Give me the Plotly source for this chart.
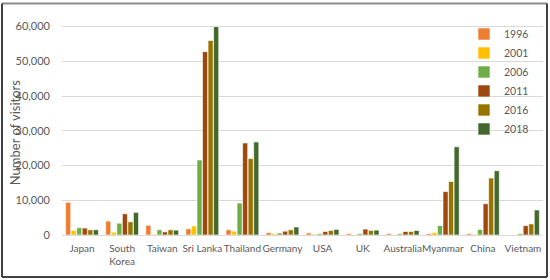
import plotly.graph_objects as go

countries = ["Japan", "South<br>Korea", "Taiwan", "Sri Lanka", "Thailand", "Germany",
             "USA", "UK", "Australia", "Myanmar", "China", "Vietnam"]
years = ["1996", "2001", "2006", "2011", "2016", "2018"]
v1996 = [9400, 4000, 2800, 1800, 1500, 700, 600, 400, 400, 400, 400, 0]
v2001 = [1300, 800, 200, 2600, 1100, 400, 200, 100, 100, 700, 200, 0]
v2006 = [2100, 3400, 1500, 21600, 9200, 600, 400, 400, 400, 2700, 1600, 400]
v2011 = [2000, 6100, 900, 52800, 26500, 1100, 1000, 1700, 1000, 12500, 9000, 2700]
v2016 = [1500, 3800, 1500, 56000, 22000, 1500, 1300, 1300, 1000, 15400, 16400, 3200]
v2018 = [1500, 6500, 1400, 60000, 26800, 2300, 1600, 1400, 1300, 25400, 18500, 7200]
series = [v1996, v2001, v2006, v2011, v2016, v2018]
colors = ["#ED7D31", "#FFC000", "#70AD47", "#9E480E", "#997300", "#43682B"]

FONT = "Lato"
GRAY = "#595959"

fig = go.Figure()
for name, vals, c in zip(years, series, colors):
    fig.add_trace(go.Bar(x=countries, y=vals, name=name,
                         marker=dict(color=c, line=dict(color="white", width=0.6))))

# plot area: x 62..543, y 10.5..235 in pixels
L, R, T, B = 62, 7, 10.5, 45
W = 550 - L - R
H = 280 - T - B
def px(x):
    return (x - L) / W
def py(y):
    return (280 - B - y) / H

fig.update_layout(
    width=550, height=280,
    margin=dict(l=L, r=R, t=T, b=B, autoexpand=False),
    paper_bgcolor="white", plot_bgcolor="white",
    barmode="group", bargap=0.17, bargroupgap=0.08,
    font=dict(family=FONT, size=11, color=GRAY),
    showlegend=True,
    legend=dict(x=px(464), y=py(19), xanchor="left", yanchor="top",
                bgcolor="rgba(0,0,0,0)", font=dict(family=FONT, size=10.5, color=GRAY),
                tracegroupgap=0, itemwidth=30),
    xaxis=dict(showgrid=False, showline=True, linecolor="#D9D9D9", linewidth=1,
               tickangle=0, automargin=False, ticklabelstandoff=4,
               tickfont=dict(family=FONT, size=10, color=GRAY), ticks=""),
    yaxis=dict(range=[0, 64500], tickvals=[0, 10000, 20000, 30000, 40000, 50000, 60000],
               tickformat=",", showgrid=True, gridcolor="#D9D9D9", gridwidth=1,
               zeroline=False, showline=False, ticks="", ticklabelstandoff=11,
               automargin=False,
               tickfont=dict(family=FONT, size=11, color=GRAY)),
    annotations=[dict(text="Number of visitors", xref="paper", yref="paper",
                      x=px(15), y=py(132), xanchor="center", yanchor="middle",
                      textangle=-90, showarrow=False,
                      font=dict(family=FONT, size=13, color=GRAY))],
    shapes=[
        dict(type="line", xref="paper", yref="paper", x0=px(2), x1=px(547), y0=py(3), y1=py(3),
             line=dict(color="#8c8c8c", width=2)),
        dict(type="line", xref="paper", yref="paper", x0=px(2), x1=px(547), y0=py(277), y1=py(277),
             line=dict(color="#404040", width=2)),
        dict(type="line", xref="paper", yref="paper", x0=px(2), x1=px(2), y0=py(3), y1=py(277),
             line=dict(color="#404040", width=2)),
        dict(type="line", xref="paper", yref="paper", x0=px(547), x1=px(547), y0=py(3), y1=py(277),
             line=dict(color="#404040", width=2)),
    ],
)

fig.write_html("out.html", config={"displayModeBar": False},
               post_script="document.body.style.margin='0';")
